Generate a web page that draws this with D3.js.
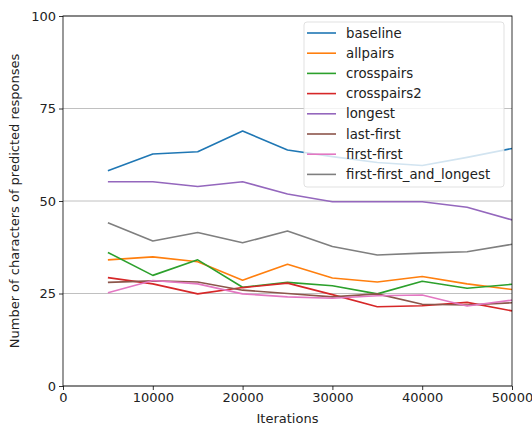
<!DOCTYPE html>
<html>
<head>
<meta charset="utf-8">
<script src="https://cdn.jsdelivr.net/npm/d3@7"></script>
<style>
  body { margin: 0; background: #fff; }
  svg { font-family: "DejaVu Sans", sans-serif; }
</style>
</head>
<body>
<div id="chart"></div>
<script>
const iterations = [5000, 10000, 15000, 20000, 25000, 30000, 35000, 40000, 45000, 50000]
const seriesNames = ["baseline", "allpairs", "crosspairs", "crosspairs2", "longest", "last-first", "first-first", "first-first_and_longest"]
const baseline = [58.2, 62.7, 63.3, 68.9, 63.8, 62.0, 60.4, 59.6, 61.8, 64.2]
const allpairs = [34.1, 34.9, 33.6, 28.6, 32.9, 29.2, 28.1, 29.6, 27.6, 26.1]
const crosspairs = [36.1, 29.9, 34.1, 26.7, 28.0, 27.1, 24.9, 28.3, 26.4, 27.5]
const crosspairs2 = [29.3, 27.6, 24.9, 26.6, 27.8, 24.7, 21.4, 21.7, 22.6, 20.3]
const longest = [55.2, 55.2, 53.9, 55.2, 51.9, 49.8, 49.8, 49.8, 48.3, 44.9]
const lastFirst = [28.0, 28.4, 28.1, 25.9, 25.0, 24.1, 24.9, 22.1, 21.9, 22.5]
const firstFirst = [25.2, 28.5, 27.6, 24.9, 24.1, 23.7, 24.4, 24.6, 21.6, 23.2]
const firstFirstAndLongest = [44.1, 39.2, 41.5, 38.7, 41.9, 37.7, 35.4, 35.9, 36.3, 38.3]
const xTicks = [0, 10000, 20000, 30000, 40000, 50000]
const yTicks = [0, 25, 50, 75, 100]

const allValues = [baseline, allpairs, crosspairs, crosspairs2, longest, lastFirst, firstFirst, firstFirstAndLongest]
const colors = ["#1f77b4", "#ff7f0e", "#2ca02c", "#d62728", "#9467bd", "#8c564b", "#e377c2", "#7f7f7f"]

const width = 532
const height = 425
const margin = {top: 16, right: 20, bottom: 39, left: 63}
const fontSize = 13

const x = d3.scaleLinear().domain([0, 50000]).range([margin.left, width - margin.right])
const y = d3.scaleLinear().domain([0, 100]).range([height - margin.bottom, margin.top])

const svg = d3.select("#chart").append("svg")
    .attr("width", width)
    .attr("height", height)

// Horizontal grid lines.
svg.append("g")
  .selectAll("line")
  .data(yTicks)
  .join("line")
    .attr("x1", x.range()[0])
    .attr("x2", x.range()[1])
    .attr("y1", d => y(d))
    .attr("y2", d => y(d))
    .attr("stroke", "#b0b0b0")
    .attr("stroke-width", 0.8)

// Lines.
const line = d3.line()
    .x((d, i) => x(iterations[i]))
    .y(d => y(d))

svg.append("g")
  .selectAll("path")
  .data(allValues)
  .join("path")
    .attr("fill", "none")
    .attr("stroke", (d, i) => colors[i])
    .attr("stroke-width", 1.6)
    .attr("stroke-linejoin", "round")
    .attr("d", d => line(d))

// Axes.
const xAxis = svg.append("g")
    .attr("transform", `translate(0,${y.range()[0]})`)
    .call(d3.axisBottom(x).tickValues(xTicks).tickFormat(d3.format("d")).tickSize(4).tickPadding(3))
const yAxis = svg.append("g")
    .attr("transform", `translate(${x.range()[0]},0)`)
    .call(d3.axisLeft(y).tickValues(yTicks).tickSize(4).tickPadding(3))

for (const ax of [xAxis, yAxis]) {
  ax.select(".domain").remove()
  ax.selectAll("line").attr("stroke", "#000").attr("stroke-width", 0.8)
  ax.selectAll("text").attr("fill", "#222").attr("font-size", fontSize).attr("font-family", "DejaVu Sans")
}

// Frame.
svg.append("rect")
    .attr("x", x.range()[0])
    .attr("y", y.range()[1])
    .attr("width", x.range()[1] - x.range()[0])
    .attr("height", y.range()[0] - y.range()[1])
    .attr("fill", "none")
    .attr("stroke", "#000")
    .attr("stroke-width", 0.8)

// Axis labels.
svg.append("text")
    .attr("x", (x.range()[0] + x.range()[1]) / 2)
    .attr("y", 423)
    .attr("text-anchor", "middle")
    .attr("font-size", fontSize)
    .attr("fill", "#222")
    .text("Iterations")
svg.append("text")
    .attr("transform", `translate(19,${(y.range()[0] + y.range()[1]) / 2}) rotate(-90)`)
    .attr("text-anchor", "middle")
    .attr("font-size", fontSize)
    .attr("fill", "#222")
    .text("Number of characters of predicted responses")

// Legend.
const legend = svg.append("g").attr("transform", "translate(304,22)")
legend.append("rect")
    .attr("width", 200)
    .attr("height", 165)
    .attr("rx", 3)
    .attr("fill", "#fff")
    .attr("fill-opacity", 0.8)
    .attr("stroke", "#d9d9d9")
    .attr("stroke-width", 0.8)
const items = legend.selectAll("g.item")
  .data(seriesNames)
  .join("g")
    .attr("class", "item")
    .attr("transform", (d, i) => `translate(0,${11 + i * 20.2})`)
items.append("line")
    .attr("x1", 3)
    .attr("x2", 32)
    .attr("stroke", (d, i) => colors[i])
    .attr("stroke-width", 1.6)
items.append("text")
    .attr("x", 42)
    .attr("dy", "0.35em")
    .attr("font-size", 13.3)
    .attr("fill", "#222")
    .text(d => d)
</script>
</body>
</html>
